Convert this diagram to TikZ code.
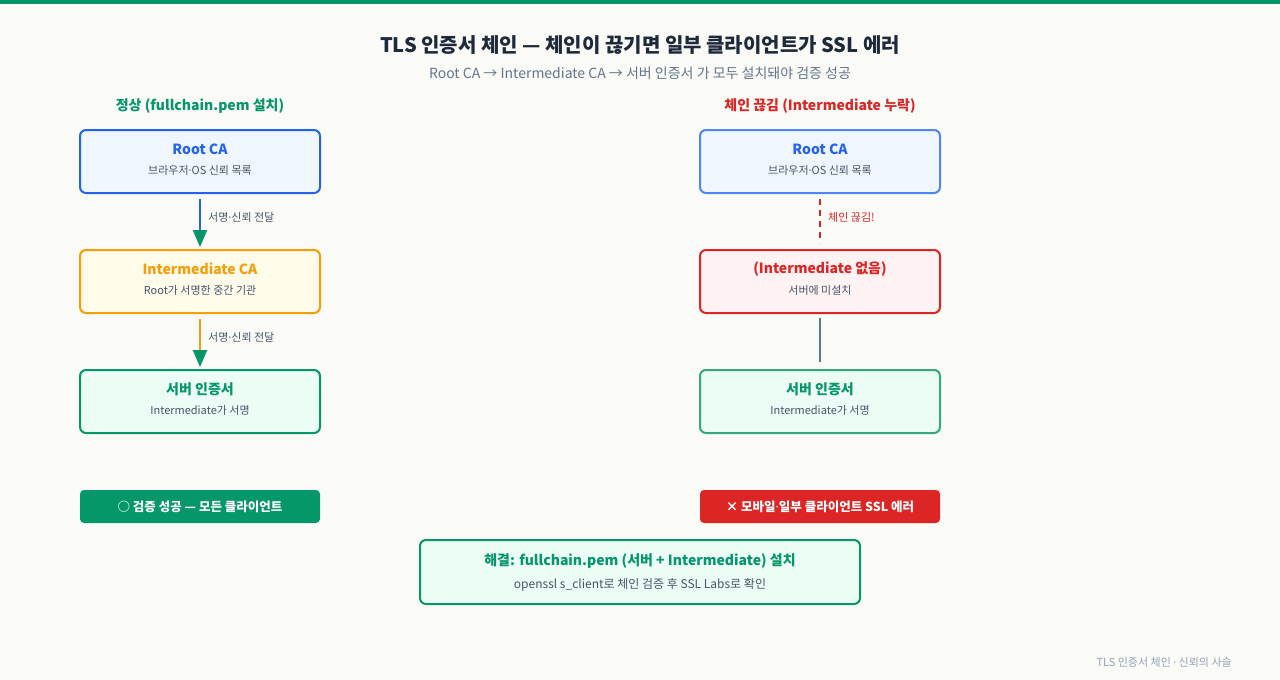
\documentclass[tikz,border=0pt]{standalone}
\usepackage{fontspec}
\setmainfont{Noto Sans CJK KR}
\newfontfamily\latinfont{Noto Sans}
\newcommand{\mdot}{{\latinfont ·}}
\usetikzlibrary{arrows.meta}
\definecolor{pagebg}{HTML}{FAFAF7}
\definecolor{ink}{HTML}{1E293B}
\definecolor{slate}{HTML}{475569}
\definecolor{muted}{HTML}{64748B}
\definecolor{faint}{HTML}{94A3B8}
\definecolor{okgreen}{HTML}{059669}
\definecolor{okfill}{HTML}{ECFDF5}
\definecolor{rootblue}{HTML}{2563EB}
\definecolor{rootfill}{HTML}{EFF6FF}
\definecolor{softblue}{HTML}{4F86F0}
\definecolor{midorange}{HTML}{F59E0B}
\definecolor{midfill}{HTML}{FFFBEB}
\definecolor{errred}{HTML}{DC2626}
\definecolor{errfill}{HTML}{FEF2F2}
\definecolor{softgreen}{HTML}{36A77E}
\definecolor{linkgray}{HTML}{64748B}
\tikzset{
  card/.style={draw, line width=2pt, rounded corners=6pt, minimum width=240pt, minimum height=63pt},
  cardtitle/.style={font=\bfseries\fontsize{14}{16}\selectfont},
  cardsub/.style={font=\fontsize{11}{13}\selectfont, text=slate},
  edgelabel/.style={anchor=west, inner sep=0pt, font=\fontsize{11}{13}\selectfont, text=slate},
  colhead/.style={font=\bfseries\fontsize{14}{16}\selectfont},
  badge/.style={fill, rounded corners=4pt, minimum width=240pt, minimum height=33pt, text=white, font=\bfseries\fontsize{12.5}{14}\selectfont},
  signlink/.style={line width=2pt, -{Triangle[length=17pt, width=14pt, color=okgreen]}, shorten <=5pt, shorten >=2pt}
}
\begin{document}
\begin{tikzpicture}[x=1pt, y=-1pt]
            \useasboundingbox[fill=pagebg] (0,0) rectangle (1280,680);
            \fill[okgreen] (0,0) rectangle (1280,4);

            \node[font=\bfseries\fontsize{20}{24}\selectfont, text=ink] (title) at (640,45) {TLS 인증서 체인 — 체인이 끊기면 일부 클라이언트가 SSL 에러};
            \node[font=\fontsize{14}{16}\selectfont, text=muted] (subtitle) at (640,73) {Root CA → Intermediate CA → 서버 인증서 가 모두 설치돼야 검증 성공};

            \node[colhead, text=okgreen] (headL) at (200,106) {정상 (fullchain.pem 설치)};
            \node[colhead, text=errred] (headR) at (820,106) {체인 끊김 (Intermediate 누락)};

            \node[card, draw=rootblue, fill=rootfill] (rootL) at (200,161.5) {};
            \node[cardtitle, text=rootblue] (rootLt) at (200,149) {Root CA};
            \node[cardsub] (rootLs) at (200,170) {브라우저\mdot OS 신뢰 목록};

            \node[card, draw=midorange, fill=midfill] (interL) at (200,281.5) {};
            \node[cardtitle, text=midorange] (interLt) at (200,269) {Intermediate CA};
            \node[cardsub] (interLs) at (200,290) {Root가 서명한 중간 기관};

            \node[card, draw=okgreen, fill=okfill] (serverL) at (200,401.5) {};
            \node[cardtitle, text=okgreen] (serverLt) at (200,389) {서버 인증서};
            \node[cardsub] (serverLs) at (200,410) {Intermediate가 서명};

            \node[card, draw=softblue, fill=rootfill] (rootR) at (820,161.5) {};
            \node[cardtitle, text=rootblue] (rootRt) at (820,149) {Root CA};
            \node[cardsub] (rootRs) at (820,170) {브라우저\mdot OS 신뢰 목록};

            \node[card, draw=errred, fill=errfill] (interR) at (820,281.5) {};
            \node[cardtitle, text=errred] (interRt) at (820,269) {(Intermediate 없음)};
            \node[cardsub] (interRs) at (820,290) {서버에 미설치};

            \node[card, draw=softgreen, fill=okfill] (serverR) at (820,401.5) {};
            \node[cardtitle, text=okgreen] (serverRt) at (820,389) {서버 인증서};
            \node[cardsub] (serverRs) at (820,410) {Intermediate가 서명};

            \draw[signlink, rootblue] (rootL) -- (interL);
            \node[edgelabel] (signL1) at (208,217) {서명\mdot 신뢰 전달};
            \draw[signlink, midorange] (interL) -- (serverL);
            \node[edgelabel] (signL2) at (208,337) {서명\mdot 신뢰 전달};

            \draw[errred, line width=2pt, dash pattern=on 6pt off 5pt, shorten <=5pt, shorten >=6pt] (rootR) -- (interR);
            \node[edgelabel, text=errred] (breakR) at (828,217) {체인 끊김!};
            \draw[linkgray, line width=2pt, shorten <=4pt, shorten >=7pt] (interR) -- (serverR);

            \node[badge, fill=okgreen] (okbadge) at (200,506.5) {○ 검증 성공 — 모든 클라이언트};
            \node[badge, fill=errred] (errbadge) at (820,506.5) {× 모바일\mdot 일부 클라이언트 SSL 에러};

            \node[card, draw=okgreen, fill=okfill, minimum width=440pt, minimum height=64pt] (fix) at (640,572) {};
            \node[cardtitle, text=okgreen] (fixt) at (640,561) {해결: fullchain.pem (서버 + Intermediate) 설치};
            \node[font=\fontsize{12}{14}\selectfont, text=slate] (fixs) at (640,585) {openssl s\_client로 체인 검증 후 SSL Labs로 확인};

            \node[anchor=east, inner sep=0pt, font=\fontsize{11}{13}\selectfont, text=faint] (footer) at (1232,662) {TLS 인증서 체인 {\latinfont ·} 신뢰의 사슬};
          \end{tikzpicture}
\end{document}
